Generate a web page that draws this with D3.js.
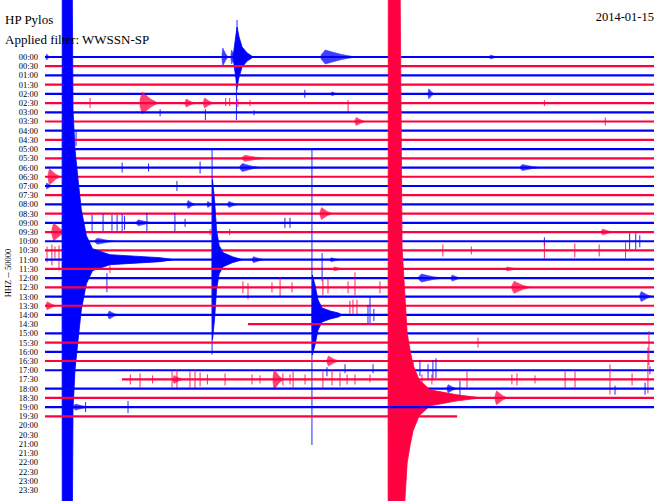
<!DOCTYPE html>
<html><head><meta charset="utf-8">
<script src="https://cdn.jsdelivr.net/npm/d3@7/dist/d3.min.js"></script>
<style>body{margin:0;background:#fff}svg{display:block}</style>
</head><body><svg id="c" width="660" height="501"></svg>
<script>
// ---------------- DATA ----------------
const title = "HP Pylos";
const subtitle = "Applied filter: WWSSN-SP";
const dateLabel = "2014-01-15";
const channelLabel = "HHZ -- 50000";
const rowLabels = ["00:00","00:30","01:00","01:30","02:00","02:30","03:00","03:30","04:00","04:30","05:00","05:30","06:00","06:30","07:00","07:30","08:00","08:30","09:00","09:30","10:00","10:30","11:00","11:30","12:00","12:30","13:00","13:30","14:00","14:30","15:00","15:30","16:00","16:30","17:00","17:30","18:00","18:30","19:00","19:30","20:00","20:30","21:00","21:30","22:00","22:30","23:00","23:30"];
const recordedRows = 40;               // rows 00:00 .. 19:30 contain data
const dataGaps = [[29, 0, 10.0], [35, 0, 3.79], [39, 20.3, 30]]; // [row, fromMin, toMin] without data
// large earthquakes: [row, onsetMin, envelope [[dtMin, amplitude]...]]
const quakes = [
  [0, 9.26, [[0,0],[0.1,15],[0.2,30],[0.3,20],[0.45,10],[0.7,4],[1.0,0]]],
  [22, 0.84, [[0,0],[0.01,320],[0.49,320],[0.54,150],[0.64,110],[0.79,80],[0.95,50],[1.2,24],[1.5,11],[2.36,5],[4.83,2],[5.5,0]]],
  [22, 8.23, [[0,0],[0.02,80],[0.12,60],[0.22,30],[0.35,14],[0.55,7],[1.0,3],[1.5,0]]],
  [28, 13.15, [[0,0],[0.02,40],[0.15,30],[0.3,15],[0.5,7],[0.9,4],[1.3,2],[1.5,0]]],
  [37, 16.90, [[0,0],[0.01,420],[0.59,420],[0.69,150],[0.94,65],[1.08,48],[1.23,33],[1.53,18],[2.07,8],[3.4,3],[4.2,1],[4.6,0]]]
];
// small bursts: [row, onsetMin, amplitude, durationMin]
const bursts = [
  [0,0.05,3,0.2],[0,8.72,9,0.3],[0,9.16,7,0.25],[0,13.6,7,1.7],[0,21.9,2,0.4],
  [4,18.87,5,0.3],[4,14.1,2,0.3],
  [5,4.68,11,0.9],[5,6.9,4,0.5],[5,7.8,5,0.5],
  [7,15.27,4,0.5],
  [11,9.7,3,1.2],
  [12,9.6,4,1.0],[12,23.4,3,1.0],
  [13,0.15,8,0.6],
  [14,0.05,3,0.3],
  [16,7.0,4,0.4],[16,7.98,3,0.3],[16,9.0,3,0.5],
  [17,13.55,6,0.6],
  [18,4.5,3,0.8],
  [19,0.34,9,0.7],[19,27.4,3,0.6],
  [20,2.46,3,1.0],
  [22,10.2,3,0.6],[22,14.04,2,0.5],
  [23,14.2,2,0.5],[23,22.7,2,0.6],
  [24,18.4,4,1.2],[24,20.0,3,0.5],
  [25,23.0,6,0.9],
  [26,29.3,5,0.6],
  [27,0.05,4,0.5],
  [28,3.1,4,0.5],
  [33,13.89,5,0.6],
  [35,6.3,4,0.5],[35,11.23,10,0.5],
  [36,19.8,4,0.5],
  [37,22.17,7,0.6],
  [38,1.4,3,0.8]
];
// spikes: [row, minute, up, down]
const spikes = [
  [0,9.46,37,33],[0,9.43,0,63],
  [4,12.8,4,4],
  [5,2.22,5,5],[5,8.9,5,3],[5,9.1,5,3],[5,9.5,4,4],[5,10.1,3,3],[5,14.93,3,10],[5,24.6,3,3],
  [6,5.67,3,4],[6,7.9,3,8],[6,10.3,2,3],
  [7,27.6,4,4],
  [8,1.53,0,15],
  [12,3.8,5,5],[12,5.1,4,4],[12,7.64,6,6],
  [14,6.5,5,5],
  [18,2.32,8,8],[18,2.86,9,9],[18,3.3,8,8],[18,3.55,8,8],[18,3.8,9,9],[18,3.92,7,7],[18,5.02,10,10],[18,6.4,10,10],[18,6.9,4,4],[18,11.82,5,5],[18,12.07,5,5],
  [19,8.13,3,3],[19,9.1,3,3],
  [20,24.6,4,4],[20,28.8,8,8],[20,29.1,8,8],[20,29.3,6,6],
  [21,0.1,4,12],[21,0.34,6,15],[21,0.49,4,8],[21,0.69,5,20],[21,19.6,6,6],[21,21.0,4,4],[21,24.6,8,8],[21,26.1,7,7],[21,27.3,6,6],[21,28.6,8,8],
  [22,8.23,110,95],
  [23,3.2,4,4],
  [24,3.05,5,14],[24,13.65,25,3],
  [25,9.75,6,6],[25,10.0,4,12],[25,11.18,5,5],[25,11.58,10,10],[25,12.17,5,5],[25,13.69,10,8],[25,13.94,9,6],[25,14.93,6,6],[25,15.27,15,8],[25,16.5,6,6],
  [27,15.02,5,8],[27,15.17,6,8],[27,15.37,6,10],
  [28,13.15,165,130],[28,15.91,10,10],[28,16.01,18,8],[28,16.2,6,6],
  [31,21.33,5,5],
  [33,29.75,30,4],
  [34,13.89,3,6],[34,14.78,6,3],[34,16.16,6,3],[34,18.13,8,8],[34,18.47,10,6],[34,18.87,6,10],[34,19.11,10,10],[34,19.26,12,8],[34,29.8,4,4],
  [35,4.2,5,5],[35,4.68,6,8],[35,5.3,4,4],[35,6.26,8,8],[35,6.5,10,10],[35,7.14,8,8],[35,7.39,10,10],[35,7.64,7,7],[35,8.0,5,5],[35,8.87,6,6],
  [35,10.2,5,5],[35,10.59,4,4],[35,11.72,6,6],[35,12.07,5,5],[35,12.22,8,8],[35,12.81,5,5],[35,13.69,8,8],[35,14.14,10,6],[35,14.53,7,7],[35,14.88,5,5],[35,15.27,5,5],[35,16.01,5,3],
  [35,18.57,5,5],[35,19.06,5,5],[35,20.79,8,8],[35,23.0,5,5],[35,23.25,6,6],[35,24.14,4,4],[35,25.62,8,8],[35,26.11,8,8],[35,27.83,15,15],[35,28.92,6,6],[35,29.7,32,14],
  [36,20.44,8,8],[36,28.08,3,6],[36,29.56,6,6],
  [38,2.0,5,5],[38,4.09,6,6]
];
const rowColors = ["#0000ff", "#ff0040"];

// ---------------- DRAW ----------------
const svg = d3.select("#c");
const W = 660, H = 501;
svg.append("rect").attr("width", W).attr("height", H).attr("fill", "#fff");

const x = d3.scaleLinear().domain([0, 30]).range([45, 654]);
const y = d3.scalePoint().domain(d3.range(rowLabels.length)).range([57, 490]);
const amp = d3.scaleLinear().domain([0, 100]).range([0, 100]);
const colorOf = r => rowColors[r % 2];

const g = svg.append("g");
const area = d3.area().curve(d3.curveLinear);

for (let r = 0; r < recordedRows; r++) {
  const row = g.append("g");
  const c = colorOf(r);
  let segs = [[0, 30]];
  dataGaps.filter(d => d[0] === r).forEach(([, a, b]) => {
    segs = segs.flatMap(([s, e]) => {
      const out = [];
      if (a > s) out.push([s, Math.min(a, e)]);
      if (b < e) out.push([Math.max(b, s), e]);
      return out;
    });
  });
  segs.forEach(([s, e]) => {
    row.append("line").attr("x1", x(s)).attr("x2", x(e))
      .attr("y1", y(r)).attr("y2", y(r))
      .attr("stroke", c).attr("stroke-width", 2.2);
  });
  bursts.filter(d => d[0] === r).forEach(([, m, a, dur]) => {
    const env = [[0, a * 0.3], [dur * 0.12, a], [dur * 0.3, a * 0.75], [dur * 0.6, a * 0.35], [dur, 0]];
    row.append("path")
      .attr("d", area.x(d => x(m + d[0])).y0(d => y(r) - amp(d[1])).y1(d => y(r) + amp(d[1]))(env))
      .attr("fill", c).attr("stroke", c).attr("stroke-width", 0.6).attr("opacity", 0.75);
  });
  quakes.filter(d => d[0] === r).forEach(([, m, env]) => {
    row.append("path")
      .attr("d", area.x(d => x(m + d[0])).y0(d => y(r) - amp(d[1])).y1(d => y(r) + amp(d[1]))(env))
      .attr("fill", c).attr("stroke", c).attr("stroke-width", 0.8);
  });
  spikes.filter(d => d[0] === r).forEach(([, m, up, dn]) => {
    row.append("line").attr("x1", x(m)).attr("x2", x(m))
      .attr("y1", y(r) - amp(up)).attr("y2", y(r) + amp(dn))
      .attr("stroke", c).attr("stroke-width", 1).attr("opacity", 0.85);
  });
}

const serif = "'Liberation Serif','DejaVu Serif',serif";
svg.append("g").selectAll("text").data(rowLabels).join("text")
  .attr("x", 38).attr("y", (d, i) => y(i)).attr("dy", "0.35em")
  .attr("text-anchor", "end").attr("font-family", serif).attr("font-size", 8.5)
  .attr("fill", "#000").text(d => d);

svg.append("text").attr("x", 5).attr("y", 24).attr("font-family", serif)
  .attr("font-size", 13).text(title);
svg.append("text").attr("x", 5).attr("y", 44).attr("font-family", serif)
  .attr("font-size", 13).text(subtitle);
svg.append("text").attr("x", 654).attr("y", 21).attr("text-anchor", "end")
  .attr("font-family", serif).attr("font-size", 12.5).text(dateLabel);
svg.append("text").attr("transform", "translate(11,273) rotate(-90)")
  .attr("text-anchor", "middle").attr("font-family", serif).attr("font-size", 8.5)
  .text(channelLabel);
</script></body></html>
